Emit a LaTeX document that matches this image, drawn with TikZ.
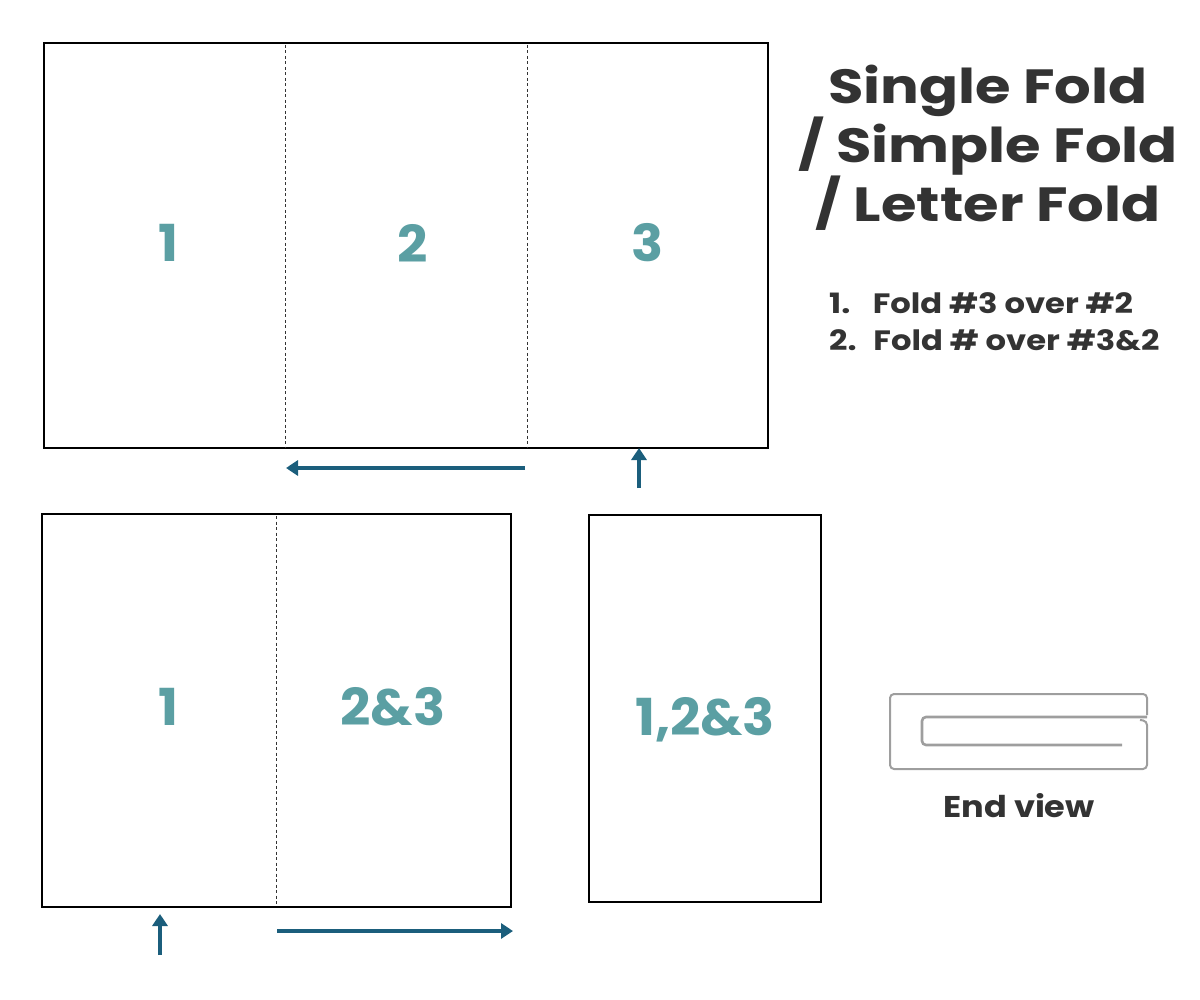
\documentclass[tikz,border=0pt]{standalone}
\usepackage{fontspec}
\setmainfont{Poppins}
\usetikzlibrary{arrows.meta}
\definecolor{numc}{HTML}{5B9FA3}
\definecolor{arrc}{HTML}{1B5E7C}
\definecolor{txtc}{HTML}{333333}
\definecolor{endc}{HTML}{9E9E9E}
\tikzset{
  panel/.style={draw=black, line width=1.8pt},
  foldline/.style={draw=black!80, line width=0.7pt, dash pattern=on 3pt off 2.5pt},
  num/.style={text=numc, font=\fontsize{51}{51}\selectfont\bfseries\addfontfeature{FakeStretch=1.04}, inner sep=0pt},
  arr/.style={draw=arrc, line width=3.4pt, -{Triangle[length=12pt,width=15pt]}},
  title/.style={text=txtc, font=\fontsize{48}{59}\selectfont\bfseries\addfontfeature{FakeStretch=1.2}, align=center, inner sep=0pt},
  steps/.style={text=txtc, font=\fontsize{28}{37}\selectfont\bfseries\addfontfeature{FakeStretch=1.15}, align=left, inner sep=0pt},
  endv/.style={draw=endc, line width=2pt, rounded corners=4pt},
}
\begin{document}
\begin{tikzpicture}[x=1pt,y=-1pt]
\useasboundingbox (0,0) rectangle (1200,1000);
% top sheet
\draw[panel] (44,43) rectangle (768,448);
\coordinate (t1a) at (285,45); \coordinate (t1b) at (285,447);
\coordinate (t2a) at (527,45); \coordinate (t2b) at (527,447);
\draw[foldline] (t1a) -- (t1b);
\draw[foldline] (t2a) -- (t2b);
\node[num] (n1) at (168,243) {1};
\node[num] (n2) at (413,243) {2};
\node[num] (n3) at (648,243) {3};
% arrows top
\coordinate (a1s) at (525,468); \coordinate (a1e) at (286,468);
\draw[arr] (a1s) -- (a1e);
\coordinate (a2s) at (639,488); \coordinate (a2e) at (639,448);
\draw[arr] (a2s) -- (a2e);
% bottom-left sheet
\draw[panel] (42,514) rectangle (511,907);
\coordinate (b1a) at (276,516); \coordinate (b1b) at (276,906);
\draw[foldline] (b1a) -- (b1b);
\node[num] (m1) at (168,707) {1};
\node[num] (m2) at (393,707) {2\&3};
% arrows bottom
\coordinate (a3s) at (160,955); \coordinate (a3e) at (160,914);
\draw[arr] (a3s) -- (a3e);
\coordinate (a4s) at (277,931); \coordinate (a4e) at (513,931);
\draw[arr] (a4s) -- (a4e);
% folded sheet
\draw[panel] (589,515) rectangle (821,902);
\node[num] (k) at (705,720) {1,2\&3};
% title
\node[title] (ttl) at (988,148) {Single Fold\\/ Simple Fold\\/ Letter Fold};
\node[steps, anchor=west] (st) at (829,322) {1.\hspace{0.8em}Fold \#3 over \#2\\2.\hspace{0.6em}Fold \# over \#3\&2};
% end view
\draw[endv] (1147,715) -- (1147,694) -- (890,694) -- (890,769) -- (1147,769) -- (1147,721) -- (1140,720);
\draw[endv, line width=2.6pt] (1147,717) -- (922,717) -- (922,745) -- (1122,745);
\node[text=txtc, font=\fontsize{30}{32}\selectfont\bfseries\addfontfeature{FakeStretch=1.12}, inner sep=0pt] (ev) at (1019,806) {End view};
\end{tikzpicture}
\end{document}
